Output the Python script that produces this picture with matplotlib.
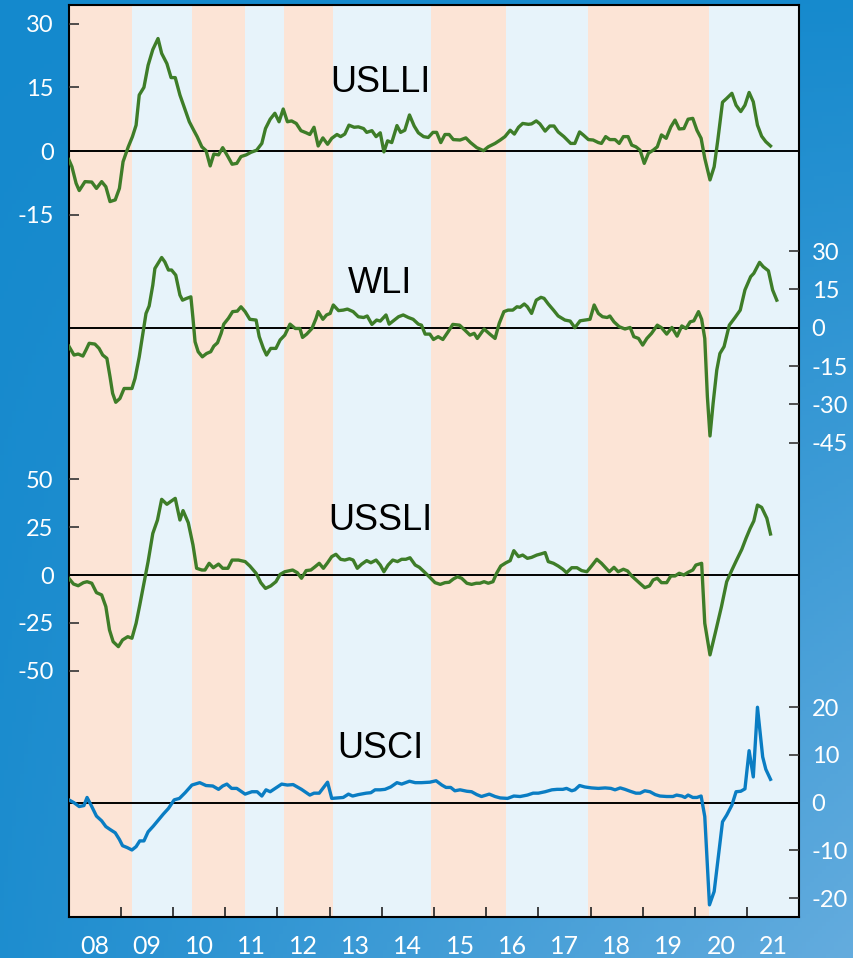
import numpy as np
import matplotlib
matplotlib.use("Agg")
import matplotlib.pyplot as plt

# ====== Data ======
# cycle phases shading the background (start/end in decimal years)
phase_edges = [2008.0, 2009.21, 2010.36, 2011.38, 2012.13, 2013.06,
               2014.95, 2016.38, 2017.95, 2020.28, 2022.0]
phase_kind = ["down", "up", "down", "up", "down", "up", "down", "up", "down", "up"]

year_labels = ["08", "09", "10", "11", "12", "13", "14",
               "15", "16", "17", "18", "19", "20", "21"]

uslli_t = [2008.00, 2008.06, 2008.14, 2008.20, 2008.31, 2008.44, 2008.53, 2008.63, 2008.71, 2008.79,
           2008.89, 2008.97, 2009.04, 2009.14, 2009.22, 2009.29, 2009.35, 2009.44, 2009.52, 2009.61,
           2009.71, 2009.78, 2009.88, 2009.96, 2010.04, 2010.13, 2010.23, 2010.31, 2010.39, 2010.46,
           2010.55, 2010.63, 2010.71, 2010.78, 2010.87, 2010.95, 2011.05, 2011.13, 2011.22, 2011.30,
           2011.40, 2011.49, 2011.60, 2011.70, 2011.77, 2011.86, 2011.95, 2012.03, 2012.11, 2012.19,
           2012.27, 2012.36, 2012.45, 2012.55, 2012.62, 2012.70, 2012.78, 2012.87, 2012.96, 2013.04,
           2013.14, 2013.21, 2013.29, 2013.37, 2013.47, 2013.55, 2013.65, 2013.71, 2013.81, 2013.89,
           2013.97, 2014.04, 2014.11, 2014.19, 2014.29, 2014.36, 2014.44, 2014.53, 2014.62, 2014.70,
           2014.80, 2014.89, 2014.98, 2015.05, 2015.13, 2015.21, 2015.29, 2015.37, 2015.50, 2015.61,
           2015.70, 2015.82, 2015.95, 2016.04, 2016.17, 2016.27, 2016.36, 2016.46, 2016.54, 2016.62,
           2016.70, 2016.81, 2016.87, 2016.96, 2017.03, 2017.13, 2017.22, 2017.30, 2017.38, 2017.49,
           2017.62, 2017.70, 2017.79, 2017.86, 2017.96, 2018.05, 2018.15, 2018.21, 2018.29, 2018.37,
           2018.47, 2018.55, 2018.63, 2018.72, 2018.79, 2018.87, 2018.95, 2019.03, 2019.11, 2019.20,
           2019.28, 2019.36, 2019.45, 2019.54, 2019.62, 2019.70, 2019.79, 2019.87, 2019.96, 2020.04,
           2020.12, 2020.19, 2020.29, 2020.37, 2020.44, 2020.53, 2020.61, 2020.71, 2020.79, 2020.88,
           2020.96, 2021.04, 2021.12, 2021.20, 2021.28, 2021.36, 2021.45]
uslli_v = [-2.0, -3.7, -7.6, -9.3, -7.2, -7.3, -8.8, -7.2, -8.4, -11.9,
           -11.5, -8.8, -2.5, 1.0, 3.4, 6.1, 13.2, 15.0, 20.2, 23.9,
           26.5, 23.0, 20.6, 17.3, 17.3, 13.2, 9.7, 6.9, 5.0, 3.4,
           1.0, 0.1, -3.5, -0.7, -0.9, 0.8, -1.3, -3.1, -2.9, -1.3,
           -0.9, -0.3, 0.2, 1.8, 5.3, 7.5, 8.9, 6.9, 9.9, 6.9,
           7.1, 6.5, 4.8, 4.3, 3.9, 5.6, 1.2, 3.1, 1.6, 3.0,
           3.9, 3.4, 4.0, 6.1, 5.6, 5.7, 5.3, 4.4, 4.8, 3.4,
           4.3, -0.2, 2.4, 2.0, 6.0, 4.4, 4.9, 8.5, 5.9, 4.3,
           3.4, 3.2, 4.4, 4.4, 2.0, 3.9, 3.9, 2.7, 2.6, 3.1,
           2.0, 0.8, 0.1, 1.0, 1.8, 2.6, 3.4, 4.9, 4.0, 5.6,
           6.5, 6.3, 6.4, 7.1, 6.4, 4.7, 5.9, 5.9, 4.5, 3.4,
           1.8, 1.8, 4.5, 3.8, 2.7, 2.6, 2.0, 1.8, 3.4, 2.7,
           2.7, 1.8, 3.4, 3.4, 1.4, 1.0, 0.2, -2.9, -0.5, 0.2,
           1.0, 3.8, 3.0, 5.7, 7.3, 5.2, 5.3, 7.5, 7.7, 4.9,
           3.0, -1.7, -6.8, -3.7, 2.6, 11.5, 12.4, 13.6, 10.8, 9.3,
           10.8, 13.8, 11.6, 6.1, 3.5, 2.2, 1.2]

wli_t = [2008.00, 2008.10, 2008.18, 2008.27, 2008.33, 2008.39, 2008.50, 2008.58, 2008.65, 2008.73,
         2008.79, 2008.84, 2008.90, 2008.98, 2009.06, 2009.21, 2009.27, 2009.35, 2009.43, 2009.48,
         2009.54, 2009.61, 2009.65, 2009.72, 2009.78, 2009.84, 2009.91, 2009.97, 2010.05, 2010.13,
         2010.18, 2010.26, 2010.34, 2010.38, 2010.42, 2010.48, 2010.56, 2010.64, 2010.72, 2010.78,
         2010.85, 2010.92, 2010.97, 2011.06, 2011.14, 2011.23, 2011.30, 2011.38, 2011.47, 2011.59,
         2011.65, 2011.73, 2011.79, 2011.87, 2011.97, 2012.05, 2012.14, 2012.24, 2012.34, 2012.43,
         2012.48, 2012.56, 2012.66, 2012.74, 2012.78, 2012.87, 2012.94, 2013.01, 2013.07, 2013.17,
         2013.26, 2013.34, 2013.45, 2013.55, 2013.65, 2013.72, 2013.81, 2013.90, 2013.97, 2014.08,
         2014.14, 2014.22, 2014.32, 2014.41, 2014.51, 2014.60, 2014.70, 2014.76, 2014.83, 2014.92,
         2014.99, 2015.08, 2015.17, 2015.27, 2015.36, 2015.49, 2015.59, 2015.69, 2015.77, 2015.83,
         2015.96, 2016.07, 2016.17, 2016.25, 2016.34, 2016.42, 2016.51, 2016.59, 2016.65, 2016.73,
         2016.79, 2016.87, 2016.96, 2017.05, 2017.11, 2017.19, 2017.29, 2017.38, 2017.51, 2017.61,
         2017.70, 2017.80, 2017.90, 2017.99, 2018.07, 2018.15, 2018.23, 2018.32, 2018.37, 2018.45,
         2018.55, 2018.66, 2018.76, 2018.83, 2018.92, 2019.00, 2019.08, 2019.17, 2019.28, 2019.36,
         2019.46, 2019.56, 2019.66, 2019.75, 2019.83, 2019.91, 2019.98, 2020.07, 2020.13, 2020.19,
         2020.24, 2020.29, 2020.35, 2020.42, 2020.48, 2020.56, 2020.66, 2020.77, 2020.87, 2020.96,
         2021.07, 2021.13, 2021.24, 2021.31, 2021.41, 2021.49, 2021.57]
wli_v = [-7.2, -10.7, -10.3, -11.1, -8.7, -6.1, -6.4, -8.1, -10.7, -12.0,
         -19.2, -25.7, -29.2, -27.7, -23.8, -23.8, -19.8, -11.4, -0.9, 5.6,
         8.5, 16.7, 23.2, 25.5, 27.5, 25.8, 22.6, 22.6, 20.6, 12.8,
         10.8, 11.5, 12.1, 3.7, -5.5, -9.4, -11.4, -10.1, -9.4, -7.2,
         -5.9, -2.2, 1.4, 3.7, 6.3, 6.5, 8.2, 6.3, 3.3, 3.0,
         -3.5, -8.1, -10.7, -8.1, -8.1, -4.8, -2.9, 1.4, -0.3, -0.3,
         -3.8, -2.5, -0.3, 3.7, 6.3, 3.3, 5.0, 5.6, 8.9, 6.7,
         6.9, 7.3, 6.3, 4.3, 4.0, 4.6, 1.3, 3.0, 2.6, 5.0,
         1.4, 2.7, 4.3, 5.0, 4.0, 3.3, 1.4, 1.0, -2.5, -2.5,
         -4.6, -3.5, -4.6, -1.6, 1.3, 1.0, -0.9, -2.9, -2.2, -4.2,
         -0.5, -2.5, -4.2, 1.7, 6.3, 6.9, 6.9, 8.2, 8.0, 9.3,
         8.2, 5.6, 10.8, 11.9, 11.5, 9.3, 6.9, 4.6, 3.0, 2.6,
         0.0, 2.7, 3.0, 3.3, 8.9, 5.6, 4.3, 4.0, 4.6, 2.3,
         0.4, -0.5, 0.1, -3.5, -4.2, -6.8, -4.2, -2.2, 1.0, 0.0,
         -2.5, 0.1, -3.3, 0.7, -0.3, 2.3, 2.7, 6.3, 3.3, -4.2,
         -27.0, -42.4, -29.6, -16.6, -10.1, -7.4, 1.0, 4.0, 6.9, 14.8,
         20.0, 21.3, 25.6, 23.9, 22.3, 14.8, 10.8]

usseli_t = [2008.00, 2008.09, 2008.18, 2008.28, 2008.35, 2008.44, 2008.53, 2008.63, 2008.71, 2008.78,
            2008.85, 2008.95, 2009.03, 2009.13, 2009.21, 2009.29, 2009.36, 2009.44, 2009.52, 2009.61,
            2009.70, 2009.78, 2009.88, 2009.95, 2010.04, 2010.13, 2010.19, 2010.29, 2010.38, 2010.45,
            2010.55, 2010.61, 2010.69, 2010.77, 2010.87, 2010.95, 2011.05, 2011.13, 2011.25, 2011.38,
            2011.47, 2011.59, 2011.68, 2011.77, 2011.87, 2011.97, 2012.05, 2012.14, 2012.29, 2012.38,
            2012.46, 2012.55, 2012.64, 2012.72, 2012.80, 2012.88, 2012.96, 2013.04, 2013.12, 2013.21,
            2013.29, 2013.38, 2013.45, 2013.53, 2013.61, 2013.71, 2013.79, 2013.89, 2013.97, 2014.04,
            2014.12, 2014.21, 2014.30, 2014.38, 2014.46, 2014.54, 2014.64, 2014.72, 2014.81, 2014.92,
            2015.02, 2015.12, 2015.21, 2015.29, 2015.37, 2015.45, 2015.53, 2015.63, 2015.72, 2015.81,
            2015.88, 2015.96, 2016.04, 2016.13, 2016.20, 2016.28, 2016.38, 2016.46, 2016.53, 2016.62,
            2016.70, 2016.79, 2016.87, 2016.97, 2017.05, 2017.13, 2017.19, 2017.29, 2017.38, 2017.47,
            2017.54, 2017.64, 2017.74, 2017.83, 2017.93, 2018.02, 2018.12, 2018.21, 2018.36, 2018.45,
            2018.53, 2018.63, 2018.71, 2018.79, 2018.89, 2018.96, 2019.04, 2019.13, 2019.20, 2019.28,
            2019.36, 2019.46, 2019.54, 2019.62, 2019.70, 2019.79, 2019.87, 2019.96, 2020.02, 2020.13,
            2020.16, 2020.19, 2020.29, 2020.39, 2020.51, 2020.61, 2020.71, 2020.80, 2020.90, 2020.98,
            2021.06, 2021.13, 2021.20, 2021.28, 2021.38, 2021.45]
usseli_v = [-1.7, -4.7, -5.6, -4.0, -3.5, -4.3, -9.2, -10.4, -16.5, -28.7,
            -34.8, -37.4, -33.9, -32.2, -33.0, -25.2, -15.7, -4.3, 7.0, 21.7,
            28.7, 39.5, 36.9, 38.3, 40.0, 28.7, 33.6, 27.3, 15.7, 3.5,
            2.6, 2.6, 6.1, 3.8, 5.7, 3.5, 3.5, 7.8, 7.8, 7.0,
            4.7, 0.9, -4.0, -7.0, -5.7, -3.5, 0.3, 1.7, 2.6, 1.2,
            -1.7, 2.3, 2.6, 4.3, 6.1, 3.5, 6.4, 9.6, 10.8, 8.2,
            7.8, 8.5, 7.8, 3.5, 5.6, 7.5, 6.4, 7.8, 5.2, 1.7,
            5.2, 7.8, 7.0, 8.2, 8.2, 9.0, 5.2, 4.0, 1.7, -1.2,
            -4.0, -4.9, -4.0, -3.8, -2.1, -0.9, -1.7, -4.3, -4.9, -4.3,
            -4.3, -3.5, -4.3, -3.5, 0.9, 4.7, 6.4, 7.5, 12.7, 9.6,
            10.4, 8.7, 9.2, 10.4, 11.0, 11.7, 7.0, 6.1, 4.7, 3.0,
            1.2, 3.8, 3.8, 2.3, 1.7, 4.7, 8.2, 6.1, 1.7, 4.0,
            1.7, 3.0, 2.1, -0.5, -3.0, -4.7, -6.6, -5.7, -2.6, -1.7,
            -4.0, -4.0, -0.5, -0.5, 0.9, 0.0, 1.4, 2.6, 5.2, 6.1,
            -9.6, -25.2, -41.7, -30.4, -16.5, -3.5, 2.6, 7.8, 13.4, 19.1,
            24.3, 28.2, 36.5, 35.3, 29.6, 21.4]

usci_t = [2008.00, 2008.10, 2008.20, 2008.29, 2008.35, 2008.44, 2008.53, 2008.63, 2008.71, 2008.79,
          2008.89, 2008.97, 2009.03, 2009.12, 2009.21, 2009.29, 2009.36, 2009.44, 2009.52, 2009.62,
          2009.72, 2009.81, 2009.91, 2010.02, 2010.12, 2010.23, 2010.36, 2010.51, 2010.63, 2010.76,
          2010.87, 2010.95, 2011.03, 2011.12, 2011.22, 2011.38, 2011.51, 2011.61, 2011.70, 2011.78,
          2011.86, 2011.97, 2012.08, 2012.19, 2012.30, 2012.46, 2012.62, 2012.70, 2012.80, 2012.87,
          2012.96, 2013.04, 2013.26, 2013.36, 2013.44, 2013.55, 2013.70, 2013.79, 2013.87, 2013.97,
          2014.06, 2014.17, 2014.29, 2014.38, 2014.53, 2014.64, 2014.76, 2014.92, 2015.04, 2015.15,
          2015.23, 2015.32, 2015.40, 2015.50, 2015.63, 2015.72, 2015.82, 2015.91, 2016.06, 2016.17,
          2016.27, 2016.41, 2016.53, 2016.65, 2016.79, 2016.90, 2017.00, 2017.13, 2017.26, 2017.36,
          2017.47, 2017.54, 2017.64, 2017.70, 2017.79, 2017.89, 2018.02, 2018.15, 2018.28, 2018.39,
          2018.47, 2018.57, 2018.66, 2018.76, 2018.87, 2018.95, 2019.04, 2019.14, 2019.24, 2019.33,
          2019.46, 2019.58, 2019.65, 2019.75, 2019.81, 2019.87, 2019.96, 2020.04, 2020.12, 2020.19,
          2020.28, 2020.37, 2020.45, 2020.53, 2020.61, 2020.71, 2020.79, 2020.88, 2020.96, 2021.04,
          2021.12, 2021.20, 2021.30, 2021.36, 2021.45]
usci_v = [0.6, 0.0, -0.8, -0.6, 1.1, -0.8, -2.8, -3.8, -5.0, -5.6,
          -6.3, -7.7, -9.0, -9.4, -9.9, -9.2, -8.0, -8.0, -6.1, -4.9,
          -3.6, -2.4, -1.2, 0.6, 0.9, 2.1, 3.7, 4.2, 3.6, 3.5,
          2.8, 3.5, 3.9, 3.0, 3.0, 1.8, 2.3, 2.3, 1.4, 2.7,
          2.3, 3.1, 3.9, 3.7, 3.8, 2.8, 1.6, 2.0, 2.0, 3.0,
          4.3, 0.9, 1.1, 1.8, 1.4, 1.7, 2.0, 2.1, 2.7, 2.7,
          2.8, 3.3, 4.2, 3.9, 4.5, 4.2, 4.2, 4.3, 4.6, 3.7,
          3.2, 3.2, 2.5, 2.7, 2.4, 2.3, 1.7, 1.3, 1.8, 1.3,
          1.0, 0.9, 1.4, 1.3, 1.6, 2.0, 2.0, 2.3, 2.7, 2.8,
          2.8, 3.0, 2.5, 2.7, 3.6, 3.3, 3.1, 3.0, 3.1, 3.0,
          2.7, 3.1, 2.8, 2.4, 2.0, 2.0, 2.5, 2.3, 1.7, 1.4,
          1.3, 1.3, 1.6, 1.4, 1.1, 1.6, 1.1, 1.1, 1.4, -2.9,
          -21.4, -18.6, -11.3, -4.0, -2.6, -0.5, 2.3, 2.4, 2.9, 10.9,
          5.4, 20.0, 9.6, 7.0, 4.9]

# ====== Style ======
GREEN = "#3E7D28"
BLUE = "#0A7DC3"
PEACH = "#FCE4D6"
SKY = "#E7F3FA"

plt.rcParams["font.family"] = ["Lato", "DejaVu Sans"]
plt.rcParams["axes.unicode_minus"] = False

W, H = 854, 958
fig = plt.figure(figsize=(W / 100, H / 100), dpi=100)

# blue gradient backdrop
bg = fig.add_axes([0, 0, 1, 1], zorder=0)
yy, xx = np.mgrid[0:1:240j, 0:1:214j]
t = np.clip(0.12 * yy + 0.03 * xx + 0.85 * xx * yy, 0, 1)[..., None]
c0 = np.array([20, 137, 205]) / 255
c1 = np.array([100, 172, 222]) / 255
bg.imshow(c0 * (1 - t) + c1 * t, aspect="auto", extent=[0, 1, 0, 1])
bg.axis("off")

# plot area in figure coords
rect = [68.8 / W, 1 - 917 / H, 730.4 / W, 912 / H]

base = fig.add_axes(rect, zorder=1)
for i, kind in enumerate(phase_kind):
    base.axvspan(phase_edges[i], phase_edges[i + 1],
                 color=PEACH if kind == "down" else SKY, lw=0)
base.set_xlim(2008, 2022)
base.set_ylim(0, 1)
base.set_yticks([])
base.set_xticks(np.arange(2009, 2022), labels=[])
base.set_xticks(np.arange(2008.5, 2022, 1), labels=year_labels, minor=True)
base.tick_params(axis="x", which="major", direction="in", length=7, width=1.2, color="#222222")
base.tick_params(axis="x", which="minor", length=0, labelsize=18, labelcolor="white", pad=13)
for sp in base.spines.values():
    sp.set_color("black")
    sp.set_linewidth(1.5)

# (t, v, colour, ylim, side, ticks, label, label y)
panels = [
    (uslli_t, uslli_v, GREEN, (-180.4, 34.4), "left", [30, 15, 0, -15], "USLLI", 13.9),
    (wli_t, wli_v, GREEN, (-230.8, 126.4), "right", [30, 15, 0, -15, -30, -45], "WLI", 13.6),
    (usseli_t, usseli_v, GREEN, (-178.5, 297.5), "left", [50, 25, 0, -25, -50], "USSLI", 23.5),
    (usci_t, usci_v, BLUE, (-23.94, 167.1), "right", [20, 10, 0, -10, -20], "USCI", 9.4),
]

for xs, ys, col, lims, side, ticks, name, ty in panels:
    ax = fig.add_axes(rect, zorder=2)
    ax.patch.set_visible(False)
    for sp in ax.spines.values():
        sp.set_visible(False)
    ax.axhline(0, color="black", lw=1.4, zorder=2)
    ax.plot(xs, ys, color=col, lw=2.4, zorder=3)
    ax.set_xlim(2008, 2022)
    ax.set_ylim(*lims)
    ax.set_xticks([])
    ax.set_yticks(ticks)
    if side == "right":
        ax.yaxis.tick_right()
        pad = 9
    else:
        pad = 11
    ax.tick_params(axis="y", direction="in", length=7, width=1.2, color="#333333",
                   labelcolor="white", labelsize=17, pad=pad)
    ax.text(2013.97, ty, name, ha="center", va="baseline", fontsize=26,
            family=["Liberation Sans", "DejaVu Sans"], color="black")

fig.savefig("out.png", dpi=100)
